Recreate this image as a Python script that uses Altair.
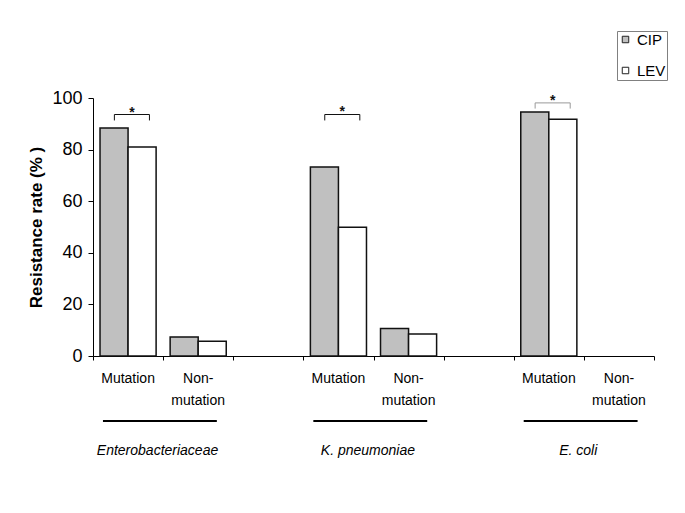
import altair as alt
import pandas as pd

groups = ["Enterobacteriaceae", "K. pneumoniae", "E. coli"]
status = ["Mutation", "Non-mutation"]
status_labels = ["Mutation", "Non-\nmutation"]
drugs = ["CIP", "LEV"]
# values in order: group x status
cip = [88.4, 7.4, 73.3, 10.7, 94.6, 0.0]
lev = [81.0, 5.7, 49.9, 8.5, 91.8, 0.0]
bracket_top = [93.6, 93.6, 98.1]
bracket_drop = [91.3, 91.3, 95.9]
star_y = [92.6, 92.9, 97.3]
y_ticks = [0, 20, 40, 60, 80, 100]

FONT = "Liberation Sans"
W, H = 561, 258

slots = []
for i, g in enumerate(groups):
    for s in status:
        slots.append(g + "|" + s)
    if i < len(groups) - 1:
        slots.append("gap%d" % i)

rows = []
k = 0
for g in groups:
    for s in status:
        rows.append({"slot": g + "|" + s, "drug": "CIP", "value": cip[k]})
        rows.append({"slot": g + "|" + s, "drug": "LEV", "value": lev[k]})
        k += 1
bars_df = pd.DataFrame(rows)

lab_df = pd.DataFrame([{"slot": g + "|" + s, "label": l}
                       for g in groups for s, l in zip(status, status_labels)])
grp_df = pd.DataFrame({
    "slot": [g + "|Mutation" for g in groups],
    "slot2": [g + "|Non-mutation" for g in groups],
    "group": groups,
    "top": bracket_top,
    "drop": bracket_drop,
    "star": star_y,
})

x_scale = alt.Scale(domain=slots, paddingInner=0, paddingOuter=0)
x_axis = alt.Axis(labels=False, title=None, tickBand="extent", tickSize=4,
                  domainColor="black", tickColor="black", grid=False,
                  domainWidth=1, tickWidth=1)
y_scale = alt.Scale(domain=[0, 100], nice=False)
y_axis = alt.Axis(values=y_ticks, title="Resistance rate (% )", grid=False,
                  labelFont=FONT, labelFontSize=18, labelColor="black",
                  labelPadding=6, tickSize=5, tickColor="black",
                  domainColor="black", titleFont=FONT, titleFontSize=17,
                  titleFontWeight="bold", titleColor="black", titlePadding=6)


def mkx(field="slot", bp=None):
    if bp is None:
        return alt.X(field + ":N", scale=x_scale, axis=x_axis)
    return alt.X(field + ":N", scale=x_scale, axis=x_axis, bandPosition=bp)


def mky(field):
    return alt.Y(field + ":Q", scale=y_scale, axis=y_axis)


bars = alt.Chart(bars_df).transform_filter(alt.datum.value > 0).mark_bar(
    stroke="#111111", strokeWidth=1.5).encode(
    x=mkx(),
    xOffset=alt.XOffset("drug:N", scale=alt.Scale(domain=drugs, paddingInner=0, paddingOuter=0.25)),
    y=mky("value"),
    fill=alt.Fill("drug:N", scale=alt.Scale(domain=drugs, range=["#c0c0c0", "#ffffff"]),
                  legend=alt.Legend(orient="none", legendX=524, legendY=-67, title=None,
                                    symbolType="square", symbolSize=42,
                                    symbolStrokeColor="#222222", symbolStrokeWidth=1,
                                    labelFont=FONT, labelFontSize=15, labelColor="black",
                                    strokeColor="#808080", fillColor="white",
                                    padding=1, rowPadding=15, labelOffset=4)),
)

bcolor = alt.condition(alt.datum.group == "E. coli", alt.value("#999999"), alt.value("#111111"))

br_h = alt.Chart(grp_df).mark_rule(strokeWidth=1).encode(
    x=mkx("slot", 0.305), x2=alt.X2("slot:N", bandPosition=0.805),
    y=mky("top"), stroke=bcolor)
br_l = alt.Chart(grp_df).mark_rule(strokeWidth=1).encode(
    x=mkx("slot", 0.305), y=mky("top"), y2="drop:Q", stroke=bcolor)
br_r = alt.Chart(grp_df).mark_rule(strokeWidth=1).encode(
    x=mkx("slot", 0.805), y=mky("top"), y2="drop:Q", stroke=bcolor)
stars = alt.Chart(grp_df).mark_text(text="*", font=FONT, fontSize=14, fontWeight="bold",
                                     baseline="alphabetic", color="#111111").encode(
    x=mkx("slot", 0.555), y=mky("star"))

xlabels = alt.Chart(lab_df).mark_text(font=FONT, fontSize=14, color="black",
                                      baseline="alphabetic", lineBreak="\n",
                                      lineHeight=22).encode(
    x=mkx(), y=alt.value(285), text="label:N")

underline = alt.Chart(grp_df).mark_rule(strokeWidth=2, color="black").encode(
    x=mkx("slot", 0.142), x2=alt.X2("slot2:N", bandPosition=0.766), y=alt.value(323))

glabels = alt.Chart(grp_df).mark_text(font=FONT, fontSize=14, fontStyle="italic",
                                      color="black", baseline="alphabetic").encode(
    x=mkx("slot", 0.92), y=alt.value(357), text="group:N")

chart = alt.layer(bars, br_h, br_l, br_r, stars, xlabels, underline, glabels).properties(
    width=W, height=H,
    autosize=alt.AutoSizeParams(type="none"),
    padding={"left": 85, "top": 90, "right": 20, "bottom": 140},
).configure(background="white", view=alt.ViewConfig(stroke=None))

chart.save("out.html", embed_options={"renderer": "svg", "actions": False})
